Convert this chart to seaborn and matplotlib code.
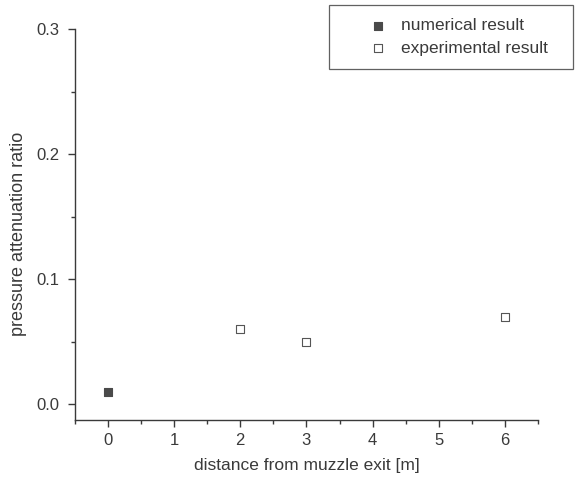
import matplotlib
matplotlib.use("Agg")
import matplotlib.pyplot as plt
from matplotlib.ticker import MultipleLocator, FormatStrFormatter
import seaborn as sns
import pandas as pd

# Measured/computed pressure attenuation ratios vs. distance from the muzzle exit
numerical_distance = [0]
numerical_ratio = [0.01]
experimental_distance = [2, 3, 6]
experimental_ratio = [0.06, 0.05, 0.07]
series_labels = ["numerical result", "experimental result"]

sns.set_theme(style="ticks")
plt.rcParams["font.family"] = ["Liberation Sans", "DejaVu Sans"]

ink = "#3a3a3a"
df = pd.concat([
    pd.DataFrame({"distance": numerical_distance, "ratio": numerical_ratio, "series": series_labels[0]}),
    pd.DataFrame({"distance": experimental_distance, "ratio": experimental_ratio, "series": series_labels[1]}),
])

fig = plt.figure(figsize=(5.76, 4.79), dpi=100)
ax = fig.add_axes([0.1295, 0.123, 0.805, 0.816])

num = df[df.series == series_labels[0]]
exp = df[df.series == series_labels[1]]
sns.scatterplot(data=num, x="distance", y="ratio", ax=ax, marker="s", s=40,
                color="#4a4a4a", edgecolor="#4a4a4a", linewidth=0.8, label=series_labels[0])
sns.scatterplot(data=exp, x="distance", y="ratio", ax=ax, marker="s", s=40,
                facecolor="white", edgecolor="#555555", linewidth=0.8, label=series_labels[1])

ax.set_xlim(-0.5, 6.5)
ax.set_ylim(-0.0128, 0.3)
ax.xaxis.set_major_locator(MultipleLocator(1))
ax.xaxis.set_minor_locator(MultipleLocator(0.5))
ax.yaxis.set_major_locator(MultipleLocator(0.1))
ax.yaxis.set_minor_locator(MultipleLocator(0.05))
ax.yaxis.set_major_formatter(FormatStrFormatter("%.1f"))

for side in ["top", "right"]:
    ax.spines[side].set_visible(False)
for side in ["left", "bottom"]:
    ax.spines[side].set_color(ink)
    ax.spines[side].set_linewidth(1.0)

ax.tick_params(which="major", direction="out", length=5, width=1.0, color=ink,
               labelcolor=ink, labelsize=12, pad=6)
ax.tick_params(axis="x", which="major", pad=4.5)
ax.tick_params(which="minor", direction="out", length=3, width=1.0, color=ink)

ax.set_xlabel("distance from muzzle exit [m]", fontsize=12.5, color=ink, labelpad=7)
ax.set_ylabel("pressure attenuation ratio", fontsize=13, color=ink)
ax.yaxis.set_label_coords(-0.103, 0.476)

# Legend box sits above the plot area, stretched to a fixed width
leg = ax.legend(loc="upper left", bbox_to_anchor=(329 / 576, 0.8, 244 / 576, 0.1896),
                bbox_transform=fig.transFigure, mode="expand", borderaxespad=0,
                frameon=True, fancybox=False, fontsize=12.5,
                handlelength=4.1, handletextpad=-0.7, borderpad=0.75, labelspacing=0.42,
                markerscale=0.8)
leg.get_frame().set_edgecolor(ink)
leg.get_frame().set_linewidth(0.9)
for t in leg.get_texts():
    t.set_color(ink)

fig.savefig("out.png", dpi=100, facecolor="white")
